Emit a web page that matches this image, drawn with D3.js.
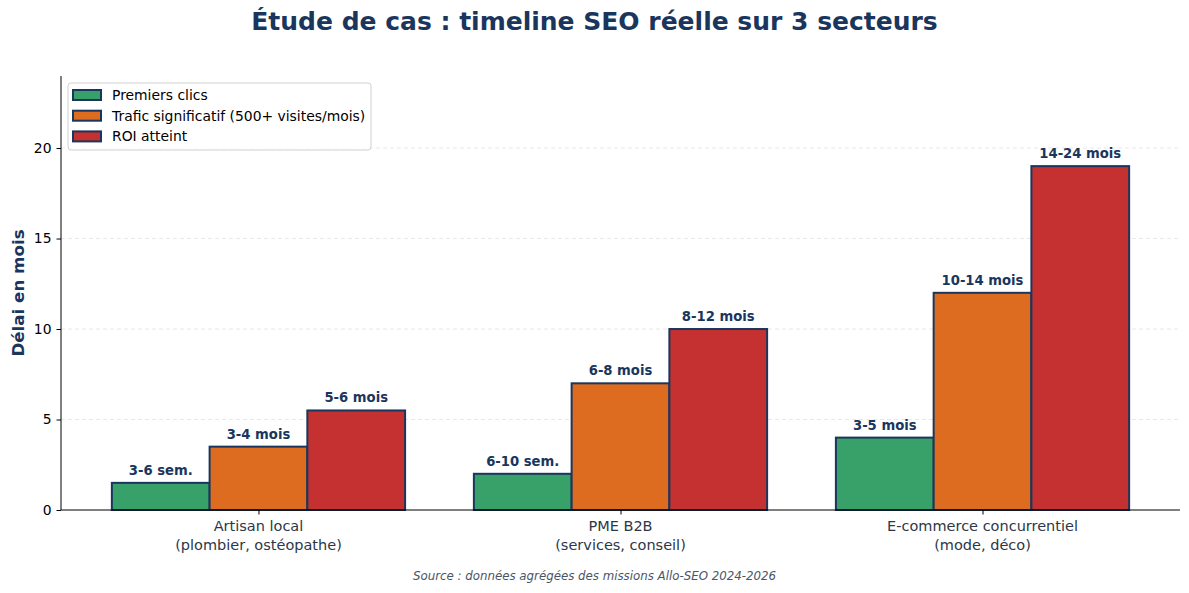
<!DOCTYPE html>
<html>
<head>
<meta charset="utf-8">
<script src="https://cdn.jsdelivr.net/npm/d3@7"></script>
<style>
  body { margin: 0; background: #fff; }
  svg, svg text { font-family: "DejaVu Sans", sans-serif; }
</style>
</head>
<body>
<script>
// data
var sectors = [["Artisan local", "(plombier, ostéopathe)"], ["PME B2B", "(services, conseil)"], ["E-commerce concurrentiel", "(mode, déco)"]];
var seriesNames = ["Premiers clics", "Trafic significatif (500+ visites/mois)", "ROI atteint"];
var firstClicks = [1.5, 2, 4];
var traffic = [3.5, 7, 12];
var roi = [5.5, 10, 19];
var firstLabels = ["3-6 sem.", "6-10 sem.", "3-5 mois"];
var trafficLabels = ["3-4 mois", "6-8 mois", "10-14 mois"];
var roiLabels = ["5-6 mois", "8-12 mois", "14-24 mois"];
var yTicks = [0, 5, 10, 15, 20];

var colors = ["#38a169", "#dd6b20", "#c53030"];
var navy = "#1a365d";

var w = 1189, h = 593,
  marginLeft = 61, marginRight = 9, marginTop = 76, marginBottom = 83;
var iw = w - marginLeft - marginRight, ih = h - marginTop - marginBottom;

var series = [
  { name: seriesNames[0], values: firstClicks, labels: firstLabels },
  { name: seriesNames[1], values: traffic, labels: trafficLabels },
  { name: seriesNames[2], values: roi, labels: roiLabels }
];
var barW = 0.27;

var svg = d3.select("body").append("svg")
  .attr("width", w).attr("height", h);

var g = svg.append("g").attr("transform", `translate(${marginLeft},${marginTop})`);

// x in category index units (like matplotlib with 5% margins)
var xScale = d3.scaleLinear().domain([-0.5455, 2.5455]).range([0, iw]);
var yScale = d3.scaleLinear().domain([0, 23.98]).range([ih, 0]);

// grid
g.selectAll(".grid").data(yTicks.filter(d => d > 0)).enter().append("line")
  .attr("x1", 0).attr("x2", iw)
  .attr("y1", d => yScale(d)).attr("y2", d => yScale(d))
  .attr("stroke", "#e2e2e2").attr("stroke-dasharray", "4,3").attr("stroke-width", 0.8);

// bars
series.forEach((s, si) => {
  var off = (si - 1) * barW;
  g.selectAll(".bar" + si).data(s.values).enter().append("rect")
    .attr("x", (d, i) => xScale(i + off - barW / 2))
    .attr("width", xScale(barW) - xScale(0))
    .attr("y", d => yScale(d))
    .attr("height", d => ih - yScale(d))
    .attr("fill", colors[si])
    .attr("stroke", navy).attr("stroke-width", 2);
  g.selectAll(".lab" + si).data(s.values).enter().append("text")
    .attr("x", (d, i) => xScale(i + off))
    .attr("y", d => yScale(d) - 8)
    .attr("text-anchor", "middle")
    .attr("font-size", "13.2px").attr("font-weight", "bold")
    .attr("fill", navy)
    .text((d, i) => s.labels[i]);
});

// y axis
var yAxis = d3.axisLeft(yScale).tickValues(yTicks).tickSize(4.5).tickPadding(5);
var ya = g.append("g").call(yAxis).attr("font-family", null).attr("font-size", null);
ya.select(".domain").attr("stroke", "#000").attr("stroke-width", 1).attr("d", `M0,${ih}V0`);
ya.selectAll("text").attr("font-size", "13.9px").attr("fill", "#000");

// x axis
var xAxis = d3.axisBottom(xScale).tickValues([0, 1, 2]).tickSize(4.5).tickFormat("");
var xa = g.append("g").attr("transform", `translate(0,${ih})`).call(xAxis)
  .attr("font-family", null).attr("font-size", null);
xa.select(".domain").attr("stroke", "#000").attr("d", `M0,0H${iw}`);
sectors.forEach((lines, i) => {
  var t = xa.append("text")
    .attr("x", xScale(i)).attr("y", 21)
    .attr("text-anchor", "middle")
    .attr("font-size", "14.5px").attr("fill", "#2d3748");
  lines.forEach((l, li) => {
    t.append("tspan").attr("x", xScale(i)).attr("dy", li === 0 ? 0 : 19).text(l);
  });
});

// titles
svg.append("text")
  .attr("x", w / 2).attr("y", 30)
  .attr("text-anchor", "middle")
  .attr("font-size", "25px").attr("font-weight", "bold").attr("fill", navy)
  .text("Étude de cas : timeline SEO réelle sur 3 secteurs");

svg.append("text")
  .attr("transform", `translate(24,${marginTop + ih / 2}) rotate(-90)`)
  .attr("text-anchor", "middle")
  .attr("font-size", "16.7px").attr("font-weight", "bold").attr("fill", navy)
  .text("Délai en mois");

svg.append("text")
  .attr("x", w / 2).attr("y", 580)
  .attr("text-anchor", "middle")
  .attr("font-size", "11.8px").attr("font-style", "italic").attr("fill", "#4a5568")
  .text("Source : données agrégées des missions Allo-SEO 2024-2026");

// legend
var leg = svg.append("g").attr("transform", "translate(68,83)");
leg.append("rect").attr("width", 303).attr("height", 67).attr("rx", 3)
  .attr("fill", "#fff").attr("fill-opacity", 0.8).attr("stroke", "#d0d0d0");
series.forEach((s, si) => {
  var row = leg.append("g").attr("transform", `translate(5,${7 + si * 20.7})`);
  row.append("rect").attr("width", 28).attr("height", 10)
    .attr("fill", colors[si]).attr("stroke", navy).attr("stroke-width", 2);
  row.append("text").attr("x", 39).attr("y", 10)
    .attr("font-size", "13.9px").attr("fill", "#000").text(s.name);
});
</script>
</body>
</html>
